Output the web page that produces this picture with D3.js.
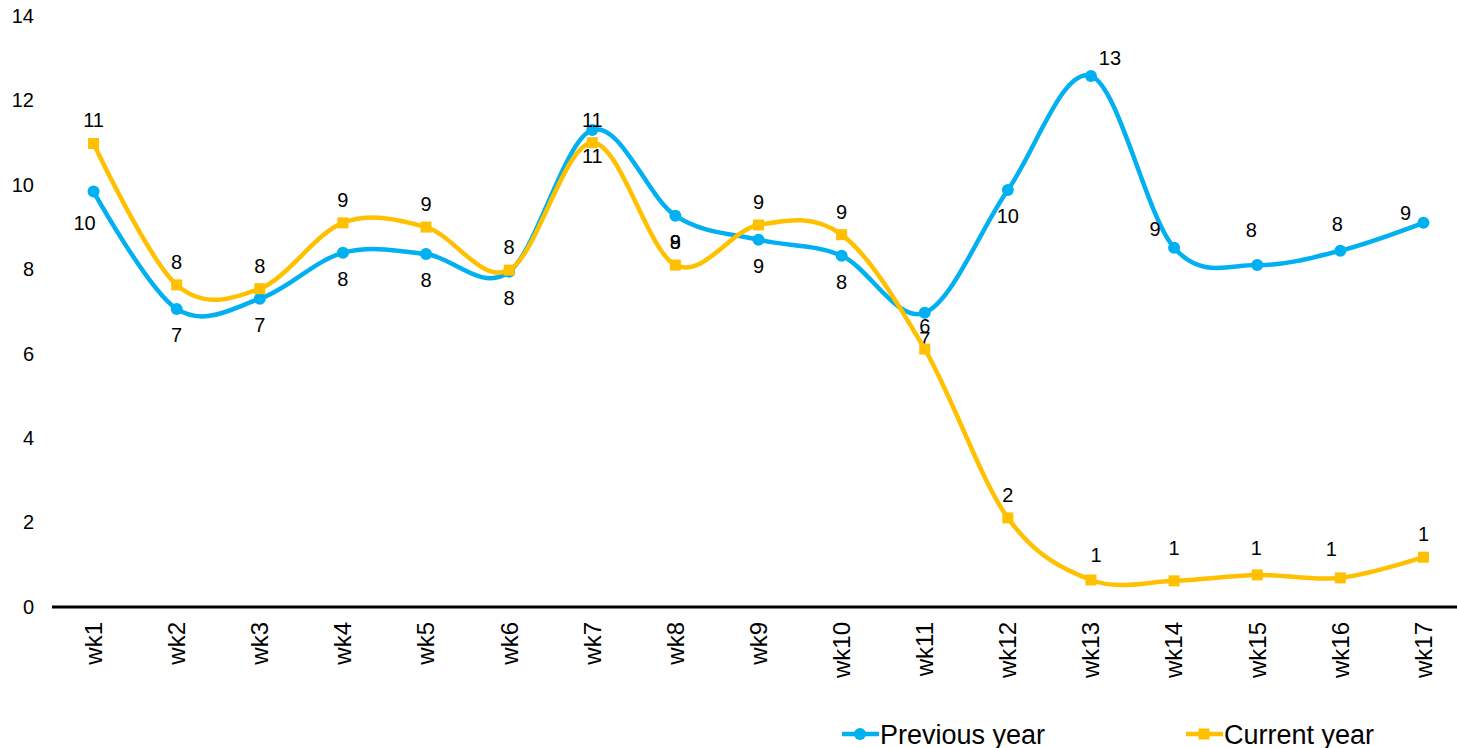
<!DOCTYPE html>
<html>
<head>
<meta charset="utf-8">
<script src="https://cdn.jsdelivr.net/npm/d3@7"></script>
<style>
  body { margin: 0; background: #fff; }
  text { font-family: "Liberation Sans", Arial, sans-serif; fill: #000; }
</style>
</head>
<body>
<script>
// weekly counts, previous vs current year
var weeks = ["wk1","wk2","wk3","wk4","wk5","wk6","wk7","wk8","wk9","wk10",
             "wk11","wk12","wk13","wk14","wk15","wk16","wk17"];
var previousYear = [9.84, 7.06, 7.3, 8.39, 8.36, 7.94, 11.3, 9.27, 8.7, 8.32,
                    6.97, 9.88, 12.58, 8.51, 8.1, 8.44, 9.1];
var currentYear = [10.98, 7.63, 7.54, 9.1, 9.0, 7.98, 11.0, 8.1, 9.05, 8.82,
                   6.11, 2.11, 0.64, 0.62, 0.76, 0.69, 1.18];
var yTicks = [0, 2, 4, 6, 8, 10, 12, 14];

var W = 1457, H = 748;

var svg = d3.select("body").append("svg")
    .attr("width", W).attr("height", H);

var x = d3.scaleBand().domain(weeks).range([52, 1465]);
var y = d3.scaleLinear().domain([0, 14]).range([607, 16]);

var blue = "#00b0f0", orange = "#ffc000";

// y labels only, no axis line
var yg = svg.append("g").attr("transform", "translate(34,0)")
    .call(d3.axisLeft(y).tickValues(yTicks).tickSize(0).tickPadding(0));
yg.select(".domain").remove();
yg.selectAll("text").attr("font-size", 20).attr("font-family", null);

// x axis
var xg = svg.append("g").attr("transform", "translate(0,607)")
    .call(d3.axisBottom(x).tickSize(0));
xg.select(".domain").remove();
xg.selectAll("text")
    .attr("font-size", 24).attr("font-family", null)
    .attr("text-anchor", "end")
    .attr("transform", "rotate(-90)")
    .attr("x", -15).attr("y", 0).attr("dy", "0.35em");

svg.append("line")
    .attr("x1", 52).attr("x2", 1465)
    .attr("y1", 607).attr("y2", 607)
    .attr("stroke", "#000").attr("stroke-width", 3);

var line = d3.line()
    .x(function(d, i) { return x(weeks[i]) + x.bandwidth() / 2; })
    .y(function(d) { return y(d); })
    .curve(d3.curveCardinal.tension(0));

var fmt = d3.format(".0f");

// label nudges [dx, dy] per point index, default below for blue, above for orange
var prevNudge = {0: [-9, 31], 12: [19, -18], 13: [-19, -19], 14: [-6, -35], 15: [-3, -27], 16: [-18, -10]};
var currNudge = {12: [5, -25], 13: [0, -33], 14: [-1, -27], 15: [-9, -29]};

function drawSeries(vals, color, shape, defDy, nudge) {
    var g = svg.append("g");
    g.append("path").datum(vals)
        .attr("d", line)
        .attr("fill", "none")
        .attr("stroke", color)
        .attr("stroke-width", 4.5);

    var cx = function(d, i) { return x(weeks[i]) + x.bandwidth() / 2; };
    if (shape === "circle") {
        g.selectAll("circle").data(vals).enter().append("circle")
            .attr("cx", cx).attr("cy", function(d) { return y(d); })
            .attr("r", 6).attr("fill", color);
    } else {
        g.selectAll("rect").data(vals).enter().append("rect")
            .attr("x", function(d, i) { return cx(d, i) - 5.5; })
            .attr("y", function(d) { return y(d) - 5.5; })
            .attr("width", 11).attr("height", 11).attr("fill", color);
    }

    g.selectAll("text").data(vals).enter().append("text")
        .attr("x", function(d, i) { return cx(d, i) + (nudge[i] ? nudge[i][0] : 0); })
        .attr("y", function(d, i) { return y(d) + (nudge[i] ? nudge[i][1] : defDy); })
        .attr("dy", "0.35em")
        .attr("text-anchor", "middle")
        .attr("font-size", 20)
        .text(function(d) { return fmt(d); });
}

drawSeries(previousYear, blue, "circle", 26, prevNudge);
drawSeries(currentYear, orange, "square", -23, currNudge);

// legend
var legend = [
    {name: "Previous year", color: blue, shape: "circle", x: 842},
    {name: "Current year", color: orange, shape: "square", x: 1186}
];
var lg = svg.append("g").selectAll("g").data(legend).enter().append("g")
    .attr("transform", function(d) { return "translate(" + d.x + ",734)"; });
lg.append("line").attr("x1", 0).attr("x2", 37)
    .attr("stroke", function(d) { return d.color; }).attr("stroke-width", 4.5);
lg.filter(function(d) { return d.shape === "circle"; }).append("circle")
    .attr("cx", 18).attr("r", 6).attr("fill", function(d) { return d.color; });
lg.filter(function(d) { return d.shape === "square"; }).append("rect")
    .attr("x", 12.5).attr("y", -5.5).attr("width", 11).attr("height", 11)
    .attr("fill", function(d) { return d.color; });
lg.append("text").attr("x", 38).attr("y", 10)
    .attr("font-size", 27)
    .text(function(d) { return d.name; });
</script>
</body>
</html>
